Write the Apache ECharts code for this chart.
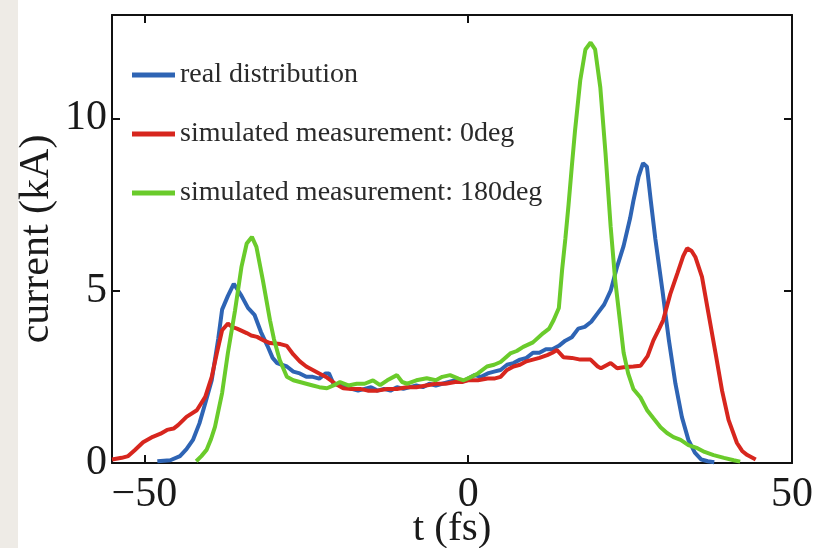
<!DOCTYPE html>
<html>
<head>
<meta charset="utf-8">
<script src="https://cdn.jsdelivr.net/npm/echarts@6/dist/echarts.min.js"></script>
<style>
  html, body { margin: 0; padding: 0; background: #fff; }
  #chart { width: 818px; height: 548px; }
</style>
</head>
<body>
<div id="chart"></div>
<script>
// tick labels
const xTicks = [-50, 0, 50];
const yTicks = [0, 5, 10];

const seriesNames = [
    "real distribution",
    "simulated measurement: 0deg",
    "simulated measurement: 180deg",
];

// [t (fs), current (kA)]
const realDist = [
    [-48, 0.05], [-46, 0.08], [-44.5, 0.2], [-43.5, 0.4], [-42.5, 0.67], [-41.5, 1.15],
    [-40.5, 1.8], [-39.6, 2.4], [-38.6, 3.6], [-38, 4.45], [-37.1, 4.85], [-36.2, 5.2],
    [-35.5, 5.0], [-35, 4.85], [-34, 4.5], [-33, 4.3], [-32, 3.8], [-31, 3.4],
    [-30.2, 3.05], [-29.5, 2.9], [-28, 2.8], [-27, 2.65], [-26, 2.6], [-25, 2.5],
    [-24, 2.5], [-23, 2.45], [-22, 2.6], [-21.5, 2.6], [-20.8, 2.3], [-19.5, 2.25],
    [-18, 2.15], [-17, 2.1], [-16, 2.15], [-15, 2.2], [-14, 2.1], [-13, 2.15],
    [-12, 2.1], [-11, 2.2], [-10, 2.15], [-9, 2.2], [-8, 2.25], [-7, 2.2],
    [-6, 2.3], [-5, 2.25], [-4, 2.3], [-3, 2.35], [-2, 2.4], [-1, 2.35],
    [0, 2.45], [1, 2.55], [2, 2.5], [3, 2.6], [4, 2.65], [5, 2.7],
    [6, 2.85], [7, 2.9], [8, 3.0], [9, 3.05], [10, 3.2], [11, 3.2],
    [12, 3.3], [13, 3.3], [14, 3.4], [15, 3.55], [16, 3.65], [17, 3.9],
    [18, 3.95], [19, 4.1], [20, 4.35], [21, 4.6], [22, 5.0], [23, 5.7],
    [24, 6.3], [25, 7.1], [25.5, 7.6], [26.3, 8.3], [27, 8.7], [27.6, 8.6],
    [28.2, 7.6], [28.9, 6.5], [30, 5.0], [31, 3.55], [32, 2.3], [33, 1.33],
    [34, 0.67], [35, 0.3], [36, 0.1], [37, 0.05], [38, 0.02],
];

const sim0deg = [
    [-55, 0.1], [-53.5, 0.15], [-52.5, 0.2], [-51.5, 0.37], [-50.2, 0.6], [-48.7, 0.76],
    [-47.5, 0.85], [-46.5, 0.96], [-45.5, 1.0], [-44.8, 1.1], [-43.5, 1.34], [-41.9, 1.53],
    [-40.6, 1.92], [-39.6, 2.5], [-38.8, 3.2], [-38, 3.85], [-37.1, 4.05], [-36.5, 3.95],
    [-35.7, 3.9], [-34.2, 3.77], [-33.5, 3.7], [-32.6, 3.66], [-31.5, 3.55], [-30.6, 3.48],
    [-29, 3.45], [-28, 3.4], [-27, 3.15], [-26, 2.95], [-25, 2.8], [-24, 2.7],
    [-23, 2.6], [-21.8, 2.48], [-20.5, 2.3], [-19.3, 2.17], [-18, 2.15], [-16.7, 2.15],
    [-15.5, 2.1], [-14, 2.1], [-12.5, 2.15], [-11, 2.15], [-9.5, 2.2], [-8, 2.2],
    [-6.5, 2.25], [-5, 2.3], [-3.5, 2.3], [-2, 2.35], [-1, 2.35], [0, 2.4],
    [1.5, 2.4], [3, 2.45], [4, 2.45], [5, 2.5], [6, 2.7], [7, 2.8],
    [8, 2.85], [9, 2.95], [10, 3.0], [11, 3.05], [12.2, 3.13], [13, 3.2],
    [13.7, 3.28], [14.7, 3.07], [16, 3.05], [17.3, 3.0], [18.9, 3.0], [20, 2.8],
    [20.5, 2.75], [22, 2.9], [23, 2.75], [24, 2.78], [25.5, 2.8], [26.6, 2.82],
    [27.7, 3.1], [28.6, 3.56], [29.5, 3.9], [30.1, 4.14], [31.2, 4.9], [32.3, 5.5],
    [33.2, 6.0], [33.8, 6.23], [34.5, 6.15], [35.1, 5.97], [36.1, 5.4], [37.1, 4.34],
    [38.2, 3.18], [39.2, 2.1], [40.2, 1.25], [41.5, 0.58], [42.3, 0.35], [43.1, 0.23],
    [44.4, 0.1],
];

const sim180deg = [
    [-42, 0.05], [-41.2, 0.2], [-40.4, 0.38], [-39.7, 0.7], [-39.1, 1.05], [-38, 2.03],
    [-37.1, 3.2], [-36, 4.43], [-35, 5.7], [-34.2, 6.37], [-33.4, 6.56], [-32.7, 6.27],
    [-31.7, 5.3], [-30.6, 4.14], [-30, 3.6], [-29.1, 2.99], [-28, 2.5], [-27, 2.4],
    [-26, 2.35], [-25, 2.3], [-24, 2.25], [-23, 2.2], [-21.8, 2.17], [-20.8, 2.25],
    [-19.8, 2.35], [-18.5, 2.25], [-17.2, 2.3], [-16, 2.3], [-14.7, 2.4], [-13.6, 2.26],
    [-12.5, 2.4], [-11, 2.55], [-10.2, 2.35], [-9.4, 2.3], [-8, 2.4], [-6.4, 2.46],
    [-5, 2.4], [-4, 2.5], [-2.8, 2.55], [-1.5, 2.45], [-0.7, 2.4], [0.5, 2.5],
    [1.5, 2.6], [2.9, 2.8], [4, 2.85], [5, 2.93], [6.5, 3.18], [7.5, 3.25],
    [8.5, 3.37], [10, 3.5], [11.6, 3.77], [12.5, 3.9], [13.2, 4.15], [14, 4.5],
    [14.5, 5.6], [15, 6.5], [15.5, 7.5], [16, 8.6], [16.5, 9.65], [17.3, 11.1],
    [18.1, 12.0], [18.9, 12.2], [19.6, 12.0], [20.4, 10.9], [21.2, 9.0], [22, 6.85],
    [22.7, 5.3], [23.2, 4.5], [24, 3.2], [24.7, 2.6], [25.5, 2.15], [26.6, 1.9],
    [27.6, 1.54], [28.6, 1.3], [29.7, 1.04], [30.7, 0.87], [31.7, 0.75], [32.8, 0.67],
    [34, 0.52], [35.4, 0.43], [36.5, 0.32], [37.9, 0.23], [39.5, 0.15], [41, 0.08],
    [42, 0.04],
];

const colors = ["#2e64b4", "#d7261e", "#6acb2b"];
const FONT = "Liberation Serif";

function minusLabel(v) {
    return v < 0 ? "\u2212" + Math.abs(v) : String(v);
}

/* axis helper for the frame (bottom/top, left/right) */
function frameAxis(pos, min, max, ticks, withLabels) {
    return {
        type: "value",
        position: pos,
        min: min,
        max: max,
        axisLine: { show: true, onZero: false, lineStyle: { color: "#111", width: 2 } },
        axisTick: { show: true, inside: true, length: 8, customValues: ticks, lineStyle: { color: "#111", width: 2 } },
        axisLabel: {
            show: withLabels,
            customValues: ticks,
            formatter: minusLabel,
            fontFamily: FONT,
            fontSize: 42,
            color: "#1a1a1a",
            margin: 11,
        },
        splitLine: { show: false },
    };
}

const xBottom = frameAxis("bottom", -55, 50, xTicks, true);
xBottom.name = "t (fs)";
xBottom.nameLocation = "middle";
xBottom.nameGap = 46;
xBottom.nameMoveOverlap = false;
xBottom.nameTextStyle = { fontFamily: FONT, fontSize: 41, color: "#1a1a1a", verticalAlign: "top" };

const yLeft = frameAxis("left", 0, 13, yTicks, true);
yLeft.axisLabel.margin = 5;
yLeft.name = "current (kA)";
yLeft.nameLocation = "middle";
yLeft.nameGap = 54;
yLeft.nameMoveOverlap = false;
yLeft.nameTextStyle = { fontFamily: FONT, fontSize: 42, color: "#1a1a1a" };

const option = {
    backgroundColor: "#ffffff",
    animation: false,
    graphic: [
        {
            type: "rect",
            left: 0,
            top: 0,
            shape: { width: 18, height: 548 },
            style: { fill: "#eeebe6" },
            z: -10,
        },
    ],
    grid: { left: 112, right: 26, top: 15, bottom: 85, outerBoundsMode: "none" },
    legend: {
        data: seriesNames,
        orient: "vertical",
        left: 127,
        top: 56,
        itemWidth: 43,
        itemHeight: 5,
        itemGap: 31,
        icon: "rect",
        textStyle: { fontFamily: FONT, fontSize: 28, color: "#2a2a2a" },
    },
    xAxis: [xBottom, frameAxis("top", -55, 50, xTicks, false)],
    yAxis: [yLeft, frameAxis("right", 0, 13, yTicks, false)],
    series: [realDist, sim0deg, sim180deg].map(function (d, i) {
        return {
            name: seriesNames[i],
            type: "line",
            data: d,
            showSymbol: false,
            symbol: "none",
            color: colors[i],
            lineStyle: { width: 4, color: colors[i] },
            xAxisIndex: 0,
            yAxisIndex: 0,
        };
    }),
};

const myChart = echarts.init(document.getElementById("chart"));
myChart.setOption(option);
</script>
</body>
</html>
